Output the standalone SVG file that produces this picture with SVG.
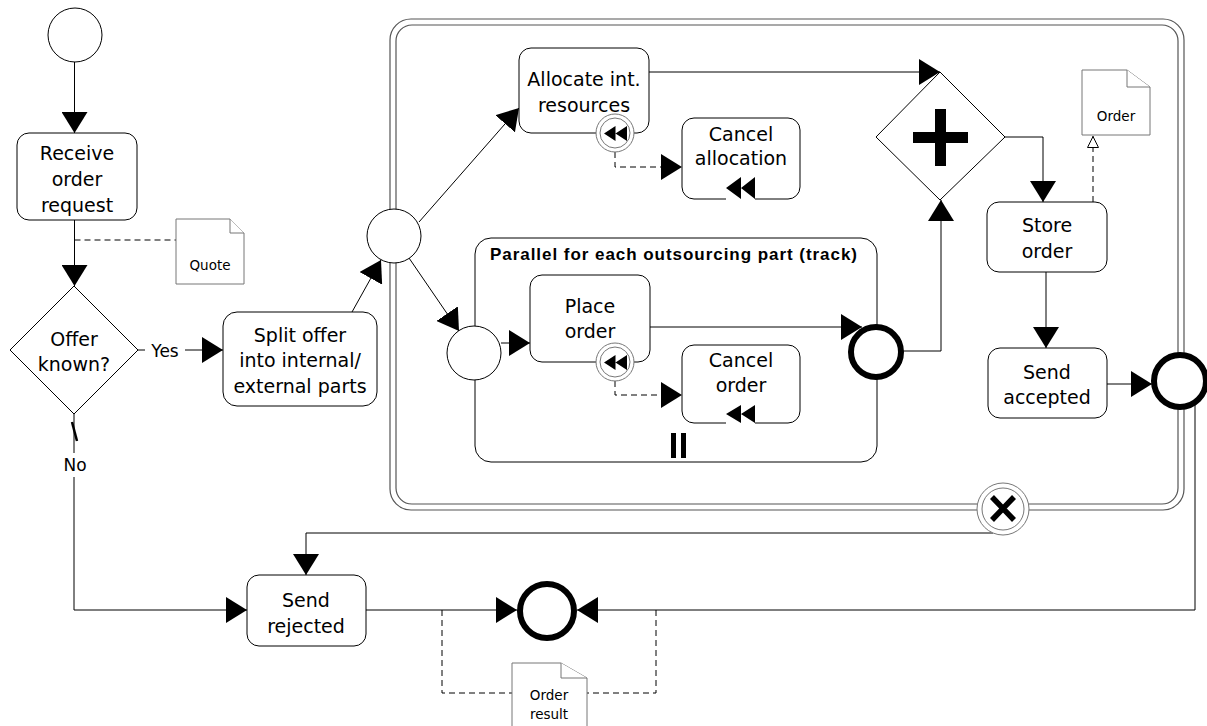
<svg xmlns="http://www.w3.org/2000/svg" width="1207" height="726" viewBox="0 0 1207 726">
  <style>
    .task { fill: #fff; stroke: #000; stroke-width: 1; }
    .t { font-family: "DejaVu Sans", "Noto Sans", sans-serif; font-size: 19px; text-anchor: middle; fill: #000; }
    .lbl { font-family: "DejaVu Sans", "Noto Sans", sans-serif; font-size: 17px; text-anchor: middle; fill: #000; }
    .doct { font-family: "DejaVu Sans", "Noto Sans", sans-serif; font-size: 13.5px; text-anchor: middle; fill: #000; }
    .title { font-family: "Liberation Sans", Arial, sans-serif; font-size: 17px; font-weight: bold; fill: #000; }
    .flow { fill: none; stroke: #000; stroke-width: 1; marker-end: url(#arrow); }
    .line { fill: none; stroke: #000; stroke-width: 1; }
    .dash { fill: none; stroke: #000; stroke-width: 1; stroke-dasharray: 6 4; }
    .doc { fill: #fff; stroke: #777; stroke-width: 1; }
    .frame { fill: none; stroke: #555; stroke-width: 1.2; }
    .ev { fill: #fff; stroke: #000; stroke-width: 1; }
    .end { fill: #fff; stroke: #000; stroke-width: 6; }
  </style>
  <defs>
    <marker id="arrow" markerWidth="21" markerHeight="26" refX="21" refY="13" orient="auto" markerUnits="userSpaceOnUse">
      <path d="M0,0 L21,13 L0,26 z" fill="#000"/>
    </marker>
    <marker id="open" markerWidth="14" markerHeight="14" refX="12.5" refY="6.5" orient="auto" markerUnits="userSpaceOnUse">
      <path d="M1,1 L12,6.5 L1,12 z" fill="#fff" stroke="#000" stroke-width="1"/>
    </marker>
    <!-- compensation boundary event (attached to a task border) -->
    <g id="compEvent">
      <circle r="19" fill="#fff" stroke="#777" stroke-width="1"/>
      <circle r="15" fill="#fff" stroke="#777" stroke-width="1"/>
      <path d="M-11,0.5 L0.5,-7 L0.5,8 z M0.5,0.5 L12,-7 L12,8 z" fill="#000"/>
    </g>
  </defs>

  <!-- containers: transaction and multi-instance sub-process -->
  <g id="transaction">
    <rect class="frame" x="390" y="19" width="794" height="491" rx="21"/>
    <rect class="frame" x="396" y="25" width="782" height="479" rx="16"/>
  </g>
  <g id="parallel-subprocess">
    <rect x="475" y="238" width="402" height="224" rx="16" fill="none" stroke="#000" stroke-width="1"/>
    <text class="title" x="490" y="260" textLength="367" lengthAdjust="spacing">Parallel for each outsourcing part (track)</text>
    <rect x="671" y="433" width="5" height="25" fill="#000"/>
    <rect x="681" y="433" width="5" height="25" fill="#000"/>
  </g>

  <!-- connectors -->
  <g id="connectors">
    <path class="flow" d="M74.5,62 V133"/>
    <path class="flow" d="M74.5,220 V286"/>
    <path class="dash" d="M74.5,240 H176"/>
    <path class="flow" d="M138,350 H223"/>
    <path class="flow" d="M74,414 V610 H247"/>
    <line x1="72" y1="422" x2="77" y2="441" stroke="#000" stroke-width="2.5"/>
    <path class="flow" d="M352,312 L381,260"/>
    <path class="flow" d="M419,222 L519,108"/>
    <path class="flow" d="M409,258 L459,331"/>
    <path class="flow" d="M501,343 H530"/>
    <path class="flow" d="M649,72 H940"/>
    <path class="dash" d="M615,152 V167 H661"/>
    <path d="M661,154 L682,167 L661,180 z" fill="#000"/>
    <path class="flow" d="M650,327 H862"/>
    <path class="dash" d="M615,381 V395 H661"/>
    <path d="M661,382 L682,395 L661,408 z" fill="#000"/>
    <path class="flow" d="M903,351 H941 V200"/>
    <path class="flow" d="M1005,137 H1043 V202"/>
    <path class="dash" d="M1093,202 V136" marker-end="url(#open)"/>
    <path class="flow" d="M1046,272 V348"/>
    <path class="flow" d="M1107,384 H1152"/>
    <path class="flow" d="M993,533 H306 V575"/>
    <path class="flow" d="M366,610 H517"/>
    <path class="flow" d="M1195,405 V610 H577"/>
    <path class="dash" d="M442,610 V693 H512"/>
    <path class="dash" d="M656,610 V693 H587"/>
  </g>

  <!-- nodes -->
  <g id="start">
    <circle class="ev" cx="75" cy="35" r="27"/>
  </g>
  <g id="receive-order-request">
    <rect class="task" x="17" y="133" width="120" height="87" rx="12"/>
    <text class="t" x="77" y="160">Receive</text>
    <text class="t" x="77" y="186">order</text>
    <text class="t" x="77" y="212">request</text>
  </g>
  <g id="quote">
    <path class="doc" d="M176,219 H230 L244,233 V284 H176 Z"/>
    <path class="doc" d="M230,219 V233 H244" fill="none"/>
    <text class="doct" x="210" y="270">Quote</text>
  </g>
  <g id="offer-known">
    <polygon points="74,286 138,350 74,414 10,350" fill="#fff" stroke="#000" stroke-width="1"/>
    <text class="t" x="74" y="346">Offer</text>
    <text class="t" x="74" y="371">known?</text>
  </g>
  <g id="label-yes">
    <rect x="145" y="338" width="40" height="24" fill="#fff"/>
    <text class="lbl" x="165" y="357">Yes</text>
  </g>
  <g id="label-no">
    <rect x="60" y="453" width="30" height="24" fill="#fff"/>
    <text class="lbl" x="75" y="471">No</text>
  </g>
  <g id="split-offer">
    <rect class="task" x="223" y="312" width="154" height="94" rx="14"/>
    <text class="t" x="300" y="342">Split offer</text>
    <text class="t" x="300" y="367">into internal/</text>
    <text class="t" x="300" y="393">external parts</text>
  </g>
  <g id="transaction-start">
    <circle class="ev" cx="394" cy="236" r="27"/>
  </g>
  <g id="allocate-resources">
    <rect class="task" x="519" y="48" width="130" height="85" rx="12"/>
    <text class="t" x="584" y="86">Allocate int.</text>
    <text class="t" x="584" y="112">resources</text>
    <use href="#compEvent" x="615" y="133"/>
  </g>
  <g id="cancel-allocation">
    <rect class="task" x="682" y="118" width="118" height="81" rx="12"/>
    <text class="t" x="741" y="141">Cancel</text>
    <text class="t" x="741" y="165">allocation</text>
    <rect x="726" y="196" width="29" height="5" fill="#fff"/>
    <path d="M726,188 L741,177 L741,199 z M741,188 L755,177 L755,199 z" fill="#000"/>
  </g>
  <g id="subprocess-start">
    <circle class="ev" cx="474" cy="353" r="27"/>
  </g>
  <g id="place-order">
    <rect class="task" x="530" y="275" width="120" height="87" rx="12"/>
    <text class="t" x="590" y="313">Place</text>
    <text class="t" x="590" y="338">order</text>
    <use href="#compEvent" x="615" y="362"/>
  </g>
  <g id="cancel-order">
    <rect class="task" x="682" y="345" width="118" height="78" rx="12"/>
    <text class="t" x="741" y="367">Cancel</text>
    <text class="t" x="741" y="392">order</text>
    <rect x="726" y="420" width="29" height="5" fill="#fff"/>
    <path d="M726,414 L741,405 L741,423 z M741,414 L755,405 L755,423 z" fill="#000"/>
  </g>
  <g id="subprocess-end">
    <circle class="end" cx="876" cy="352" r="25" stroke-width="5.5"/>
  </g>
  <g id="parallel-join">
    <polygon points="940,72 1005,137 940,200 876,137" fill="#fff" stroke="#000" stroke-width="1"/>
    <rect x="913" y="132" width="55" height="11" fill="#000"/>
    <rect x="935" y="109" width="11" height="57" fill="#000"/>
  </g>
  <g id="order-doc">
    <path class="doc" d="M1082,70 H1127 L1150,87 V135 H1082 Z"/>
    <path class="doc" d="M1127,70 V87 H1150" fill="none"/>
    <text class="doct" x="1116" y="121">Order</text>
  </g>
  <g id="store-order">
    <rect class="task" x="987" y="202" width="120" height="70" rx="12"/>
    <text class="t" x="1047" y="232">Store</text>
    <text class="t" x="1047" y="258">order</text>
  </g>
  <g id="send-accepted">
    <rect class="task" x="988" y="348" width="119" height="70" rx="12"/>
    <text class="t" x="1047" y="379">Send</text>
    <text class="t" x="1047" y="404">accepted</text>
  </g>
  <g id="transaction-end">
    <circle class="end" cx="1180" cy="381" r="26"/>
  </g>
  <g id="cancel-boundary">
    <circle cx="1003" cy="509" r="26" fill="#fff" stroke="#777" stroke-width="1"/>
    <circle cx="1003" cy="509" r="21" fill="#fff" stroke="#777" stroke-width="1"/>
    <path d="M992,497 L1014,520 M1014,497 L992,520" stroke="#000" stroke-width="5.5"/>
  </g>
  <g id="send-rejected">
    <rect class="task" x="247" y="575" width="119" height="71" rx="12"/>
    <text class="t" x="306" y="607">Send</text>
    <text class="t" x="306" y="633">rejected</text>
  </g>
  <g id="final-end">
    <circle class="end" cx="547" cy="611" r="27"/>
  </g>
  <g id="order-result">
    <path class="doc" d="M512,663 H561 L587,678 V745 H512 Z"/>
    <path class="doc" d="M561,663 V678 H587" fill="none"/>
    <text class="doct" x="549" y="700">Order</text>
    <text class="doct" x="549" y="719">result</text>
  </g>
</svg>
